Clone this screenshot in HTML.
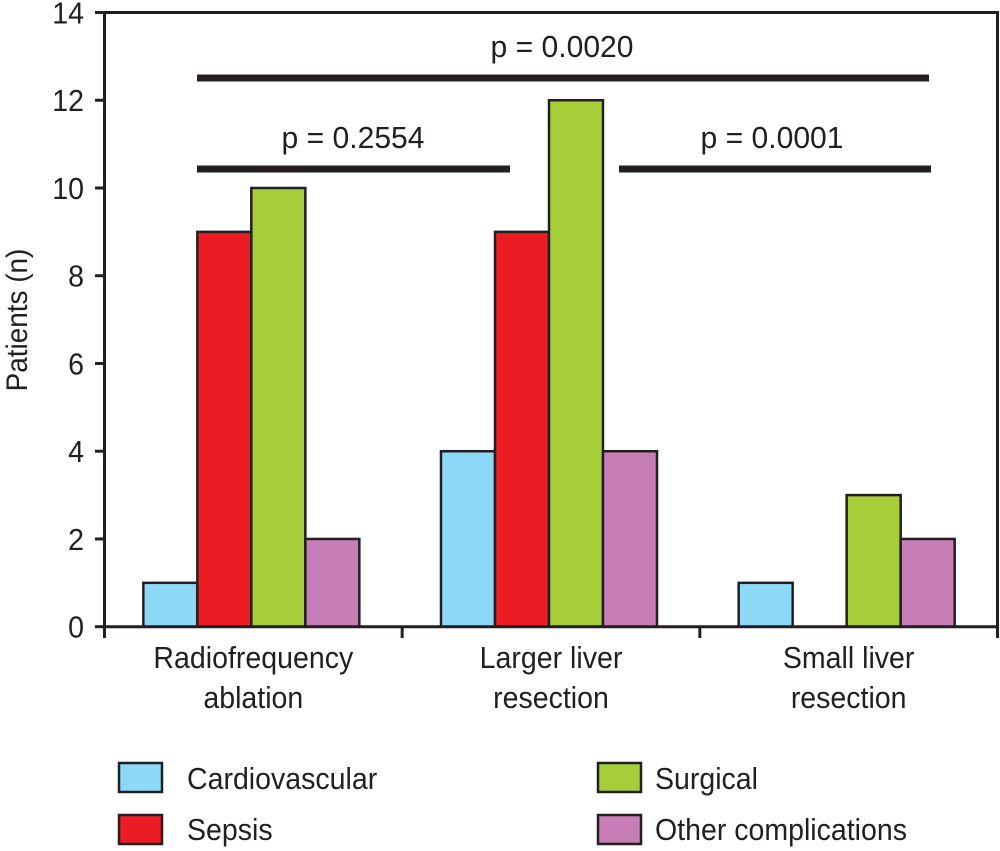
<!DOCTYPE html>
<html><head><meta charset="utf-8"><style>
html,body{margin:0;padding:0;background:#fff;}
svg{display:block;font-family:"Liberation Sans",Arial,sans-serif;}
</style></head><body>
<svg id="chart" width="1000" height="851" viewBox="0 0 1000 851" xmlns="http://www.w3.org/2000/svg"></svg>
<script>
const categories = [["Radiofrequency","ablation"],["Larger liver","resection"],["Small liver","resection"]];
const seriesNames = ["Cardiovascular","Sepsis","Surgical","Other complications"];
const cardiovascular = [1,4,1];
const sepsis = [9,9,0];
const surgical = [10,12,3];
const other = [2,4,2];
const yTicks = [0,2,4,6,8,10,12,14];
const pLabels = ["p = 0.0020","p = 0.2554","p = 0.0001"];

const colors = ["#8dd8f6","#ec1c24","#a6ce39","#c77db5"];
const series = [cardiovascular,sepsis,surgical,other];
const svg = document.getElementById('chart');
const NS = "http://www.w3.org/2000/svg";
const X0 = 104.5, X1 = 997.5, Y0 = 626.7, Y14 = 12.5;
const yMax = 14;
function y(v){ return Y0 - (Y0 - Y14) * v / yMax; }
const groupW = (X1 - X0) / categories.length;
function xc(i){ return X0 + groupW * (i + 0.5); }
const barW = 54;

function mk(tag, attrs){ const e = document.createElementNS(NS, tag); for (const k in attrs) e.setAttribute(k, attrs[k]); svg.appendChild(e); return e; }
function txt(s, x, yy, anchor, size, k){
  const t = mk('text', {x:x, y:yy, 'text-anchor':anchor, 'font-size':size, fill:'#231f20'});
  t.textContent = s;
  const L = t.getComputedTextLength();
  t.setAttribute('textLength', (L*(k||0.92)).toFixed(1));
  t.setAttribute('lengthAdjust','spacingAndGlyphs');
  return t;
}

series.forEach((s, si) => {
  s.forEach((v, ci) => {
    if (v <= 0) return;
    const bx = xc(ci) - 2*barW + si*barW - 2;
    const r = mk('rect', {x:bx, y:y(v), width:barW, height:Y0 - y(v), fill:colors[si], stroke:'#231f20', 'stroke-width':2.5});
    
    
  });
});

const frame = mk('path', {d:`M${X0},${Y0} V${Y14} H${X1} V${Y0} H${X0}`, fill:'none', stroke:'#231f20', 'stroke-width':3});



yTicks.forEach(v => {
  const l = mk('line', {x1:95, x2:X0, y1:y(v), y2:y(v), stroke:'#231f20', 'stroke-width':3});
  
  
  const t = txt(String(v), 84, y(v)+11, 'end', 31);
  
  
});
for (let i = 0; i <= categories.length; i++){
  const xx = X0 + groupW*i;
  const l = mk('line', {x1:xx, x2:xx, y1:Y0, y2:638, stroke:'#231f20', 'stroke-width':3});
  
  
}
categories.forEach((c, i) => {
  const a = txt(c[0], xc(i), 668, 'middle', 31, 0.92);
  
  
  const b = txt(c[1], xc(i), 708, 'middle', 31, 0.92);
  
  
});

const yt = mk('text', {x:0, y:0, 'text-anchor':'middle', 'font-size':30, fill:'#231f20', transform:'translate(27,320) rotate(-90)'});
yt.textContent = 'Patients (n)';
yt.setAttribute('textLength', (yt.getComputedTextLength()*0.93).toFixed(1));
yt.setAttribute('lengthAdjust','spacingAndGlyphs');



const sig = [[197,929,78,562,57],[197,510,169,353,148],[619,931,169,772,148]];
sig.forEach((s, i) => {
  const r = mk('rect', {x:s[0], y:s[2]-3.5, width:s[1]-s[0], height:7, fill:'#231f20'});
  
  
  const t = txt(pLabels[i], s[3], s[4], 'middle', 31, 0.97);
  
  
});

const leg = [[119,763,187,789],[119,815,187,840],[598,763,655,789],[598,815,655,840]];
leg.forEach((p, i) => {
  const r = mk('rect', {x:p[0], y:p[1], width:43, height:29, fill:colors[i], stroke:'#231f20', 'stroke-width':2.5});
  
  
  const t = txt(seriesNames[i], p[2], p[3], 'start', 31, 0.92);
  
  
});
</script>
</body></html>
